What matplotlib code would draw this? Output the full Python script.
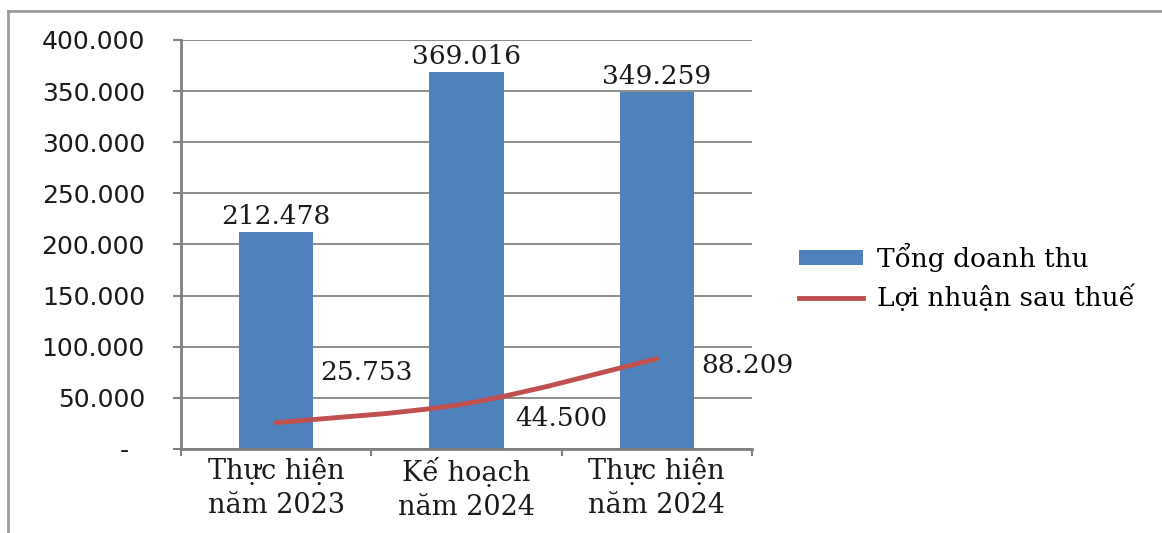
import matplotlib
matplotlib.use("Agg")
import matplotlib.pyplot as plt
from matplotlib.path import Path
from matplotlib.patches import PathPatch, Patch
from matplotlib.lines import Line2D
from matplotlib.ticker import FixedLocator, FuncFormatter
import numpy as np

categories = ["Thực hiện\nnăm 2023", "Kế hoạch\nnăm 2024", "Thực hiện\nnăm 2024"]
doanh_thu = [212.478, 369.016, 349.259]
loi_nhuan = [25.753, 44.500, 88.209]
series_names = ["Tổng doanh thu", "Lợi nhuận sau thuế"]
y_ticks = [0, 50, 100, 150, 200, 250, 300, 350, 400]

BAR_COLOR = "#4F81BD"
LINE_COLOR = "#C0504D"
SERIF = "DejaVu Serif"
SANS = "DejaVu Sans"


def fmt_num(v):
    # thousands in the Vietnamese style: 212.478
    return f"{v:.3f}"


def smooth_path(xs, ys):
    # Catmull-Rom style bezier through the points, like a spreadsheet "smoothed line"
    pts = np.column_stack([xs, ys]).astype(float)
    n = len(pts)
    verts = [pts[0]]
    codes = [Path.MOVETO]
    for i in range(n - 1):
        p_prev = pts[max(i - 1, 0)]
        p0 = pts[i]
        p1 = pts[i + 1]
        p_next = pts[min(i + 2, n - 1)]
        c1 = p0 + (p1 - p_prev) / 6.0
        c2 = p1 - (p_next - p0) / 6.0
        verts += [c1, c2, p1]
        codes += [Path.CURVE4] * 3
    return Path(verts, codes)


fig = plt.figure(figsize=(11.62, 5.33), dpi=100)
ax = fig.add_axes([0.1558, 0.1576, 0.647 - 0.1558, 0.925 - 0.1576])

x = np.arange(len(categories))
bars = ax.bar(x, doanh_thu, width=0.39, color=BAR_COLOR, zorder=2)

for xi, v in zip(x, doanh_thu):
    ax.annotate(fmt_num(v), (xi, v), xytext=(0, 2), textcoords="offset points",
                ha="center", va="bottom", fontsize=19, family=SERIF, color="#1a1a1a")

curve = PathPatch(smooth_path(x, loi_nhuan), facecolor="none", edgecolor=LINE_COLOR,
                  lw=3.5, capstyle="round", zorder=3)
ax.add_patch(curve)

# profit labels sit to the right of each point
offsets = [(65, 36), (68, -11), (65, -5)]
for xi, v, off in zip(x, loi_nhuan, offsets):
    ax.annotate(fmt_num(v), (xi, v), xytext=off, textcoords="offset points",
                ha="center", va="center", fontsize=19, family=SERIF, color="#1a1a1a")

ax.set_xlim(-0.5, 2.5)
ax.set_ylim(0, 400)

ax.yaxis.set_major_locator(FixedLocator(y_ticks))
ax.yaxis.set_major_formatter(FuncFormatter(lambda v, p: "-  " if v == 0 else f"{v:.3f}"))
ax.tick_params(axis="y", length=6, width=1.5, color="#808080", pad=20,
               labelsize=18, labelcolor="#1a1a1a")
for lab in ax.get_yticklabels():
    lab.set_family(SANS)

ax.xaxis.set_major_locator(FixedLocator([-0.5, 0.5, 1.5, 2.5]))
ax.xaxis.set_major_formatter(FuncFormatter(lambda v, p: ""))
ax.xaxis.set_minor_locator(FixedLocator(x))
ax.xaxis.set_minor_formatter(FuncFormatter(lambda v, p: categories[int(round(v))]))
ax.tick_params(axis="x", which="major", length=5, width=1.5, color="#808080")
ax.tick_params(axis="x", which="minor", length=0, pad=6, labelsize=19.5,
               labelcolor="#1a1a1a")
for lab in ax.get_xticklabels(minor=True):
    lab.set_family(SERIF)
    lab.set_linespacing(1.3)

ax.grid(axis="y", color="#8c8c8c", lw=1.4, zorder=0)
ax.set_axisbelow(True)
for side in ["top", "right"]:
    ax.spines[side].set_visible(False)
for side in ["left", "bottom"]:
    ax.spines[side].set_color("#808080")
    ax.spines[side].set_linewidth(2)

handles = [Patch(facecolor=BAR_COLOR, edgecolor="none"),
           Line2D([], [], color=LINE_COLOR, lw=3.5)]
fig.legend(handles, series_names, loc="center left", bbox_to_anchor=(0.688, 0.48),
           bbox_transform=fig.transFigure, frameon=False, borderpad=0,
           borderaxespad=0, handlelength=2.4, handleheight=0.45, handletextpad=0.55,
           labelspacing=0.45, prop={"family": SERIF, "size": 19})

# outer frame of the chart area (top and left edges)
fig.add_artist(Line2D([8 / 1162, 1.0], [1 - 11 / 533] * 2, transform=fig.transFigure,
                      color="#9a9a9a", lw=2))
fig.add_artist(Line2D([8 / 1162] * 2, [0.0, 1 - 11 / 533], transform=fig.transFigure,
                      color="#9a9a9a", lw=2))

fig.savefig("out.png", dpi=100)
